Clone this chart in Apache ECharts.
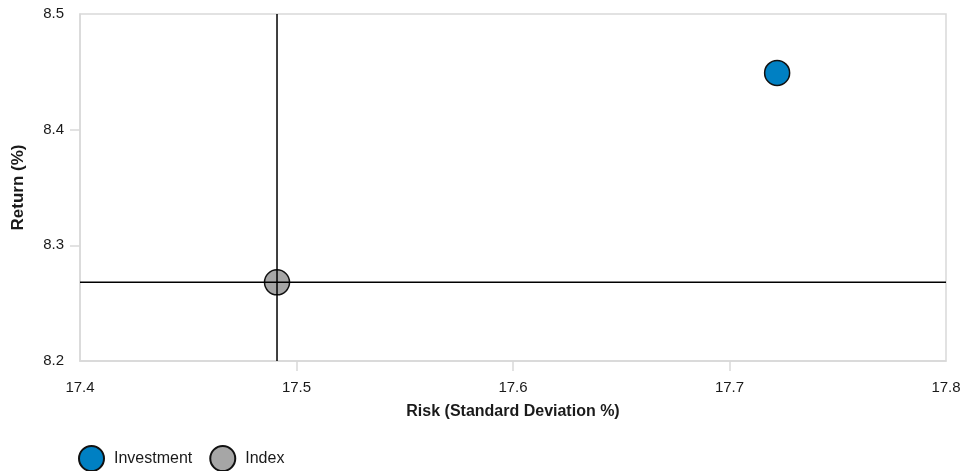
<!DOCTYPE html>
<html><head><meta charset="utf-8">
<script src="https://cdn.jsdelivr.net/npm/echarts@6/dist/echarts.min.js"></script>
<style>html,body{margin:0;padding:0;background:#fff}#c{width:964px;height:471px}</style>
</head><body><div id="c"></div>
<script>
const seriesNames = ['Investment', 'Index'];
const investmentPoint = [17.722, 8.449];
const indexPoint = [17.491, 8.268];
const xTicks = [17.4, 17.5, 17.6, 17.7, 17.8];
const yTicks = [8.2, 8.3, 8.4, 8.5];

const xMin = xTicks[0], xMax = xTicks[xTicks.length - 1];
const yMin = yTicks[0], yMax = yTicks[yTicks.length - 1];

const chart = echarts.init(document.getElementById('c'), null, {renderer: 'canvas'});
const font = 'Liberation Sans, Arial, sans-serif';
const crossStyle = {
  type: 'line', symbol: 'none', silent: true, z: 6, legendHoverLink: false,
  lineStyle: {color: '#000', width: 1.5, type: 'solid'}, emphasis: {disabled: true}
};
chart.setOption({
  animation: false,
  textStyle: {fontFamily: font},
  grid: {left: 80, right: 18, top: 14, bottom: 110, show: true, borderColor: '#d9d9d9', borderWidth: 1.5,
         containLabel: false, outerBoundsMode: 'none'},
  xAxis: {
    type: 'value', min: xMin, max: xMax, interval: 0.1,
    name: 'Risk (Standard Deviation %)', nameLocation: 'middle', nameGap: 43,
    nameTextStyle: {fontWeight: 'bold', fontSize: 16, color: '#1a1a1a', fontFamily: font},
    axisLine: {show: true, lineStyle: {color: '#d9d9d9', width: 1.5}},
    axisTick: {show: true, length: 10, lineStyle: {color: '#d9d9d9', width: 1.5}, customValues: xTicks.slice(1, -1)},
    axisLabel: {margin: 19, fontSize: 15, color: '#1a1a1a', fontFamily: font, formatter: v => v.toFixed(1)},
    splitLine: {show: false}
  },
  yAxis: {
    type: 'value', min: yMin, max: yMax, interval: 0.1,
    name: 'Return (%)', nameLocation: 'middle', nameGap: 53,
    nameTextStyle: {fontWeight: 'bold', fontSize: 17, color: '#1a1a1a', fontFamily: font},
    axisLine: {show: true, lineStyle: {color: '#d9d9d9', width: 1.5}},
    axisTick: {show: true, length: 10, lineStyle: {color: '#d9d9d9', width: 1.5}, customValues: yTicks.slice(1, -1)},
    axisLabel: {margin: 16, fontSize: 15, color: '#1a1a1a', fontFamily: font, formatter: v => v.toFixed(1)},
    splitLine: {show: false}
  },
  legend: {
    left: 73, top: 440, itemWidth: 25, itemHeight: 25, itemGap: 17, icon: 'circle',
    textStyle: {fontSize: 16, color: '#1a1a1a', fontFamily: font, padding: [0, 0, 0, 5]},
    data: seriesNames
  },
  series: [
    {
      name: seriesNames[1], type: 'scatter', symbolSize: 25, z: 3,
      itemStyle: {color: '#a6a6a6', borderColor: '#111', borderWidth: 1.5, opacity: 1},
      data: [indexPoint]
    },
    {
      name: seriesNames[0], type: 'scatter', symbolSize: 25, z: 4,
      itemStyle: {color: '#0080c3', borderColor: '#111', borderWidth: 1.5, opacity: 1},
      data: [investmentPoint]
    },
    Object.assign({name: 'crossV', data: [[indexPoint[0], yMin], [indexPoint[0], yMax]]}, crossStyle),
    Object.assign({name: 'crossH', data: [[xMin, indexPoint[1]], [xMax, indexPoint[1]]]}, crossStyle)
  ]
});
</script></body></html>
